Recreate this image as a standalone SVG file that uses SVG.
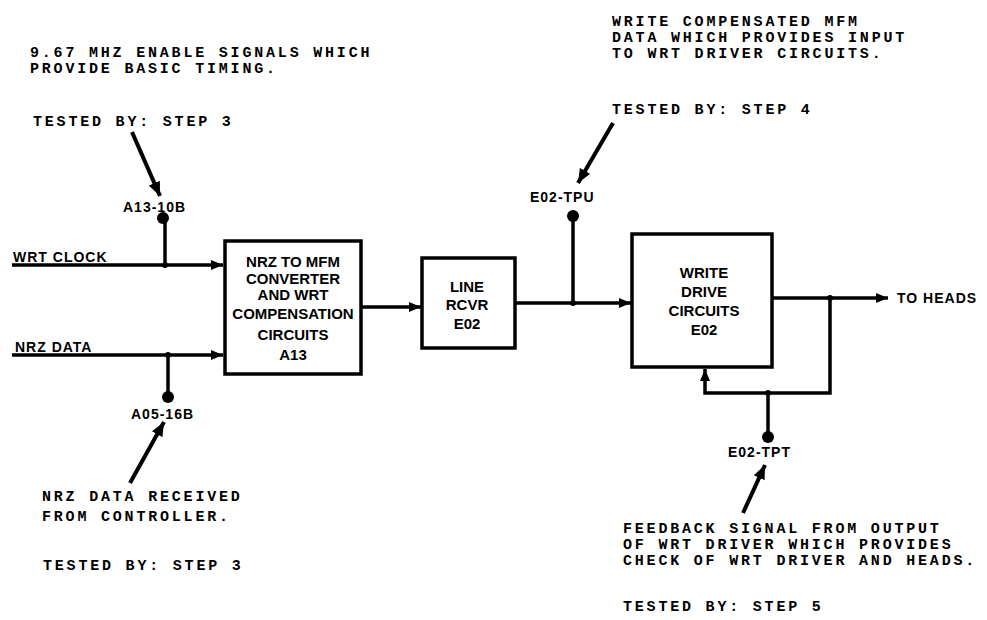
<svg xmlns="http://www.w3.org/2000/svg" width="987" height="620" viewBox="0 0 987 620">
<defs>
<marker id="sa" markerUnits="userSpaceOnUse" markerWidth="12" markerHeight="10" refX="12" refY="5" orient="auto"><path d="M0,0 L12,5 L0,10 z" fill="#000"/></marker>
<marker id="ca" markerUnits="userSpaceOnUse" markerWidth="14" markerHeight="12" refX="14" refY="6" orient="auto"><path d="M0,0 L14,6 L0,12 z" fill="#000"/></marker>
<style>
.note{font-family:"Liberation Mono",monospace;font-weight:bold;font-size:15px;letter-spacing:2.8px;fill:#000}
.lbl{font-family:"Liberation Sans",Arial,sans-serif;font-weight:bold;font-size:14px;letter-spacing:1px;fill:#000}
.bx{font-family:"Liberation Sans",Arial,sans-serif;font-weight:bold;font-size:15px;fill:#000;text-anchor:middle}
.box{fill:#fff;stroke:#000;stroke-width:3.5}
.w{fill:none;stroke:#000;stroke-width:3.5}
.c{fill:none;stroke:#000;stroke-width:4}
</style>
</defs>
<rect width="987" height="620" fill="#fff"/>

<g id="connectors">
<path class="w" d="M12,265 H223" marker-end="url(#sa)"/>
<path class="w" d="M12,355 H223" marker-end="url(#sa)"/>
<path class="w" d="M165,220 V265"/>
<path class="w" d="M168,355 V395"/>
<path class="w" d="M362,307 H421" marker-end="url(#sa)"/>
<path class="w" d="M515,303 H631" marker-end="url(#sa)"/>
<path class="w" d="M573,216 V303"/>
<path class="w" d="M772,298 H888" marker-end="url(#sa)"/>
<path class="w" d="M830,298 V393 H705 V369" marker-end="url(#sa)"/>
<path class="w" d="M768,393 V437"/>
<circle cx="165" cy="265" r="3"/>
<circle cx="168" cy="355" r="3"/>
<circle cx="573" cy="303" r="3"/>
<circle cx="830" cy="298" r="3"/>
<circle cx="768" cy="393" r="3"/>
<path class="c" d="M132,132 L160,196" marker-end="url(#ca)"/>
<path class="c" d="M130,483 L164,422" marker-end="url(#ca)"/>
<path class="c" d="M613,123 L578,183" marker-end="url(#ca)"/>
<path class="c" d="M743,513 L765,465" marker-end="url(#ca)"/>
</g>

<g id="tp-a13">
<circle cx="163" cy="218" r="6"/>
<text class="lbl" x="123" y="212">A13-10B</text>
</g>
<g id="tp-a05">
<circle cx="168" cy="397" r="6"/>
<text class="lbl" x="131" y="419">A05-16B</text>
</g>
<g id="tp-tpu">
<circle cx="573" cy="216" r="6"/>
<text class="lbl" x="530" y="202">E02-TPU</text>
</g>
<g id="tp-tpt">
<circle cx="768" cy="437" r="6"/>
<text class="lbl" x="728" y="457">E02-TPT</text>
</g>

<g id="in-clock"><text class="lbl" x="13" y="262">WRT CLOCK</text></g>
<g id="in-data"><text class="lbl" x="15" y="352">NRZ DATA</text></g>
<g id="out-heads"><text class="lbl" x="897" y="303">TO HEADS</text></g>

<g id="box-a13">
<rect class="box" x="225" y="241" width="136" height="133"/>
<text class="bx" x="293" y="267">NRZ TO MFM</text>
<text class="bx" x="293" y="284">CONVERTER</text>
<text class="bx" x="293" y="300">AND WRT</text>
<text class="bx" x="293" y="319">COMPENSATION</text>
<text class="bx" x="293" y="340">CIRCUITS</text>
<text class="bx" x="293" y="360">A13</text>
</g>

<g id="box-rcvr">
<rect class="box" x="422" y="258" width="93" height="90"/>
<text class="bx" x="467" y="292">LINE</text>
<text class="bx" x="467" y="310">RCVR</text>
<text class="bx" x="467" y="329">E02</text>
</g>

<g id="box-drive">
<rect class="box" x="632" y="234" width="140" height="133"/>
<text class="bx" x="704" y="278">WRITE</text>
<text class="bx" x="704" y="297">DRIVE</text>
<text class="bx" x="704" y="316">CIRCUITS</text>
<text class="bx" x="704" y="335">E02</text>
</g>

<g id="note-clock">
<text class="note" x="30" y="57">9.67 MHZ ENABLE SIGNALS WHICH</text>
<text class="note" x="30" y="73">PROVIDE BASIC TIMING.</text>
<text class="note" x="33" y="126">TESTED BY: STEP 3</text>
</g>
<g id="note-data">
<text class="note" x="42" y="501">NRZ DATA RECEIVED</text>
<text class="note" x="42" y="521">FROM CONTROLLER.</text>
<text class="note" x="43" y="570">TESTED BY: STEP 3</text>
</g>
<g id="note-mfm">
<text class="note" x="612" y="26">WRITE COMPENSATED MFM</text>
<text class="note" x="612" y="42">DATA WHICH PROVIDES INPUT</text>
<text class="note" x="612" y="58">TO WRT DRIVER CIRCUITS.</text>
<text class="note" x="612" y="114">TESTED BY: STEP 4</text>
</g>
<g id="note-feedback">
<text class="note" x="623" y="533">FEEDBACK SIGNAL FROM OUTPUT</text>
<text class="note" x="623" y="549">OF WRT DRIVER WHICH PROVIDES</text>
<text class="note" x="623" y="565">CHECK OF WRT DRIVER AND HEADS.</text>
<text class="note" x="623" y="611">TESTED BY: STEP 5</text>
</g>
</svg>
